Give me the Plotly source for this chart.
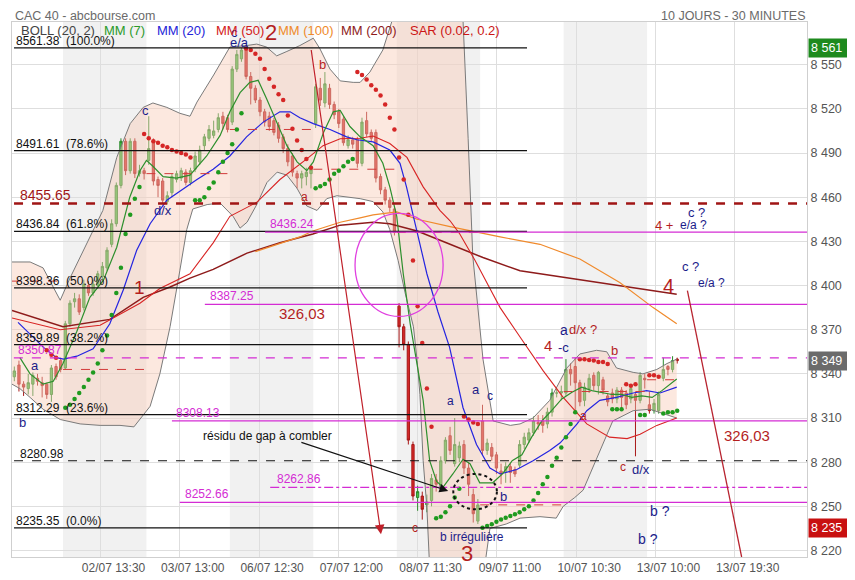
import plotly.graph_objects as go

# ---------------- DATA ----------------
day_labels = ["01/07", "02/07", "03/07", "06/07", "07/07", "08/07", "09/07", "10/07", "13/07"]
bars_per_day = [11, 18, 18, 18, 18, 18, 18, 18, 7]

open_ = [8338, 8346, 8333, 8330, 8333, 8337, 8334, 8333, 8326, 8345, 8349,
         8344, 8374, 8389, 8391, 8385, 8400, 8395, 8400, 8406, 8412, 8428, 8442, 8468, 8498, 8478, 8498, 8476, 8478,
         8485, 8498, 8472, 8471, 8457, 8463, 8472, 8473, 8477, 8470, 8479, 8484, 8495, 8500, 8502, 8506, 8515, 8514,
         8511, 8547, 8554, 8560, 8542, 8534, 8526, 8518, 8515, 8512, 8509, 8501, 8493, 8488, 8476, 8473, 8474, 8476,
         8510, 8534, 8524, 8534, 8523, 8518, 8513, 8495, 8499, 8499, 8483, 8512, 8504, 8504, 8474, 8465, 8458, 8452,
         8386, 8372, 8360, 8292, 8256, 8257, 8251, 8254, 8268, 8263, 8281, 8298, 8279, 8283, 8292, 8276, 8258, 8240,
         8308, 8288, 8290, 8285, 8274, 8273, 8277, 8275, 8278, 8292, 8295, 8300, 8307, 8308, 8306, 8314, 8327, 8327,
         8327, 8343, 8345, 8334, 8322, 8330, 8339, 8332, 8336, 8325, 8327, 8323, 8329, 8327, 8323, 8326, 8322, 8337,
         8319, 8315, 8315, 8337, 8345, 8343, 8350]
high = [8345, 8349, 8335, 8340, 8341, 8340, 8338, 8334, 8346, 8347, 8351,
        8376, 8390, 8395, 8394, 8404, 8403, 8404, 8410, 8416, 8426, 8445, 8470, 8500, 8500, 8500, 8500, 8482, 8480,
        8515, 8500, 8474, 8473, 8464, 8476, 8478, 8480, 8479, 8480, 8491, 8495, 8503, 8509, 8512, 8517, 8518, 8516,
        8549, 8560, 8561.4, 8561, 8545, 8536, 8528, 8520, 8518, 8514, 8511, 8503, 8496, 8490, 8478, 8478, 8480, 8482,
        8537, 8541, 8545, 8537, 8525, 8520, 8515, 8502, 8501, 8501, 8514, 8518, 8506, 8506, 8476, 8467, 8460, 8454,
        8388, 8374, 8362, 8294, 8264, 8260, 8258, 8272, 8272, 8284, 8297, 8304, 8310, 8294, 8295, 8280, 8262, 8255,
        8319, 8296, 8293, 8287, 8279, 8280, 8279, 8277, 8295, 8300, 8303, 8311, 8312, 8312, 8317, 8330, 8330, 8332,
        8350, 8347, 8351, 8336, 8334, 8340, 8341, 8342, 8338, 8327, 8330, 8331, 8331, 8329, 8333, 8328, 8341, 8340,
        8328, 8323, 8328, 8351, 8346, 8352, 8351]
low = [8335, 8328, 8325, 8326, 8325, 8332, 8324, 8323, 8321, 8336, 8341,
       8343, 8372, 8385, 8380, 8383, 8393, 8393, 8398, 8404, 8410, 8426, 8440, 8466, 8475, 8476, 8473, 8474, 8472,
       8482, 8468, 8460, 8455, 8455, 8460, 8470, 8471, 8468, 8468, 8477, 8482, 8492, 8498, 8500, 8504, 8506, 8504,
       8509, 8545, 8552, 8540, 8523, 8524, 8515, 8508, 8505, 8502, 8497, 8490, 8481, 8474, 8466, 8466, 8468, 8466,
       8507, 8522, 8521, 8520, 8513, 8507, 8495, 8493, 8493, 8480, 8481, 8501, 8498, 8470, 8462, 8455, 8450, 8434,
       8358, 8356, 8292, 8254, 8247, 8241, 8246, 8250, 8260, 8260, 8279, 8285, 8277, 8280, 8272, 8257, 8239, 8238,
       8285, 8285, 8281, 8272, 8265, 8266, 8266, 8270, 8276, 8289, 8293, 8298, 8302, 8300, 8303, 8311, 8324, 8322,
       8325, 8332, 8313, 8318, 8318, 8327, 8329, 8326, 8326, 8318, 8320, 8320, 8316, 8316, 8320, 8284, 8320, 8330,
       8313, 8313, 8313, 8335, 8339, 8341, 8347]
close = [8342, 8333, 8331, 8334, 8339, 8335, 8332, 8326, 8344, 8338, 8343,
         8374, 8388, 8391, 8382, 8401, 8395, 8401, 8408, 8413, 8424, 8442, 8468, 8498, 8478, 8498, 8476, 8478, 8476,
         8493, 8471, 8468, 8458, 8461, 8474, 8476, 8478, 8470, 8478, 8488, 8492, 8501, 8506, 8505, 8514, 8510, 8506,
         8547, 8557, 8560, 8542, 8534, 8526, 8518, 8511, 8508, 8504, 8500, 8493, 8484, 8477, 8473, 8476, 8477, 8479,
         8535, 8526, 8537, 8523, 8516, 8510, 8497, 8499, 8496, 8483, 8511, 8503, 8500, 8473, 8465, 8458, 8453, 8436,
         8372, 8360, 8295, 8257, 8260, 8248, 8253, 8269, 8265, 8281, 8295, 8288, 8292, 8291, 8276, 8265, 8245, 8251,
         8288, 8293, 8284, 8276, 8272, 8277, 8273, 8272, 8292, 8297, 8300, 8308, 8306, 8305, 8314, 8327, 8327, 8328,
         8343, 8340, 8334, 8321, 8331, 8337, 8332, 8341, 8329, 8321, 8323, 8329, 8324, 8319, 8330, 8322, 8339, 8336,
         8315, 8320, 8326, 8343, 8343, 8349, 8349]
prev_close_before = 8403

N_ = None
sar = [N_, N_, N_, N_, N_, N_, N_, 8356, 8353, 8351, N_,
       8317, 8319, 8323, 8327, 8331, 8336, 8341, 8347, 8356, 8366, 8380, 8395, 8412, 8435, 8448, 8459, 8467, 8503,
       8500, 8498, 8497, 8495, 8494, 8492, 8491, 8490, 8489, 8487, 8458, 8458, 8460, 8466, 8470, 8477, 8484, 8490,
       8496, 8506, 8517, 8561, 8560, 8557.5, 8554, 8547, 8540.5, 8535, 8530, 8526, 8515.5, 8506.5, 8498.5, 8492, 8486, 8480,
       8466, 8467.5, 8469, 8472, 8476, 8478, 8481, 8484, 8486, 8545, 8543, 8540, 8536, 8533, 8529, 8523, 8514, 8506,
       8487, 8472, 8448, 8417, 8386, 8361, 8330, 8304, 8242, 8243, 8246, 8250, 8256, 8262, 8311, 8309, 8307, 8306,
       8235.5, 8236.6, 8237.8, 8239.6, 8241, 8242.3, 8243.5, 8244.6, 8246, 8248, 8250, 8254, 8259, 8265, 8270, 8277.5, 8283, 8290,
       8297, 8306, 8314, 8350, 8350, 8349.4, 8349, 8348, 8348, 8346.7, 8316, 8316, 8316, 8333, 8332, 8333, 8312, 8312,
       8339, 8339, 8338, 8313, 8314, 8314, 8315]

boll_up_x = [-0.5, 3.4, 6.2, 9.9, 12.0, 15.6, 19.1, 22.1, 25.0, 27.8, 29.9, 32.9, 35.7, 37.9, 39.4, 43.0, 46.5, 50.1,
             52.3, 54.4, 56.6, 58.8, 61.6, 64.5, 65.9, 68.1, 70.3, 73.1, 74.6, 76.7, 79.5, 81.5, 83.2, 87.5, 91.8,
             95.1, 96.8, 97.9, 98.9, 101.1, 103.3, 107.0, 109.1, 111.9, 115.5, 119.2, 122.0, 125.6, 127.8, 129.9,
             133.5, 135.6, 138.6, 140.8, 142.9]
boll_up_y = [8416, 8416, 8412, 8390, 8405, 8428, 8451, 8487, 8510, 8521, 8524, 8521, 8517, 8515, 8524.6, 8543, 8562,
             8563, 8564, 8562, 8556, 8559, 8563, 8568, 8561, 8547, 8539, 8538, 8538, 8545, 8560, 8580, 8600, 8640,
             8650, 8630, 8580, 8500, 8420, 8350, 8308, 8305, 8306, 8310, 8322, 8344, 8353.5, 8356, 8355, 8344, 8341,
             8340, 8343, 8347, 8350]
boll_lo_x = [-0.5, 1.2, 3.4, 6.2, 9.9, 14.2, 18.5, 22.8, 25.8, 29.3, 31.4, 33.6, 35.7, 37.2, 38.5, 41.6, 44.4, 47.2,
             48.7, 50.2, 52.3, 54.5, 56.7, 58.8, 61.0, 63.1, 65.3, 67.4, 69.6, 71.8, 74.6, 77.4, 79.5, 81.0, 82.8,
             84.3, 86.1, 86.9, 87.5, 88.2, 89.0, 89.5, 90.8, 94.0, 98.3, 101.5, 102.6, 106.1, 109.1, 113.4, 116.9,
             118.4, 120.9, 122.7, 126.3, 129.1, 133.5, 137.1, 142.9]
boll_lo_y = [8333, 8330, 8324, 8316, 8309, 8306, 8305, 8305, 8304, 8318, 8340, 8372, 8410, 8438, 8452, 8455, 8456,
             8447, 8439, 8443, 8455, 8470, 8477, 8475, 8466, 8454, 8451, 8459, 8461, 8460, 8459, 8457, 8450, 8438,
             8417, 8395, 8372, 8349, 8326, 8281, 8249, 8215, 8170, 8140, 8160, 8210, 8235, 8238, 8242, 8243, 8242,
             8250, 8256, 8261, 8288, 8308, 8315, 8316, 8310]

mm7_x = [1.2, 3.4, 6.2, 8.4, 10.5, 13.5, 16.3, 19.2, 22.1, 24.9, 27.1, 28.5, 29.9, 32.1, 35.0, 37.9, 41.5, 44.4,
         46.5, 48.7, 50.8, 52.6, 54.4, 56.6, 58.8, 61.0, 63.1, 64.5, 66.7, 68.8, 70.3, 72.4, 74.6, 77.4, 79.5, 81.0,
         82.5, 83.9, 85.4, 88.2, 89.6, 91.1, 92.5, 94.6, 96.8, 98.3, 100.4, 103.2, 105.3, 107.4, 109.5, 111.6,
         113.8, 115.9, 118.1, 120.3, 122.4, 124.6, 126.7, 128.9, 131.0, 133.2, 135.4, 137.6, 139.7, 141.9, 142.9]
mm7_y = [8351, 8340, 8333, 8335, 8347, 8369, 8392, 8403.5, 8426, 8460, 8478, 8485, 8481, 8474, 8473, 8475, 8488,
         8502, 8518, 8531, 8538, 8539.4, 8527, 8511, 8495, 8484, 8478, 8484, 8504, 8518, 8519, 8508, 8501, 8495,
         8483, 8467, 8447, 8408, 8374, 8322, 8281, 8267, 8263, 8272, 8282, 8279, 8266, 8266, 8272, 8281, 8285,
         8297, 8308, 8315, 8323, 8327.5, 8331, 8328.6, 8327.5, 8326, 8326, 8324, 8325, 8324, 8328.6, 8334, 8336.5]
mm20_x = [0.8, 3.4, 6.3, 9.1, 10.6, 13.5, 17.0, 20.6, 23.5, 26.4, 29.3, 32.9, 35.7, 37.9, 39.4, 42.9, 46.5, 50.1,
          53.7, 57.3, 59.5, 61.6, 64.5, 68.1, 71.7, 73.9, 77.4, 81.0, 83.2, 84.6, 86.8, 89.0, 91.4, 93.9, 96.8,
          99.7, 102.6, 104.8, 108.4, 111.9, 115.5, 117.7, 119.2, 121.4, 123.5, 126.3, 129.9, 133.5, 136.4, 139.3,
          142.9]
mm20_y = [8375, 8367, 8358, 8351, 8350, 8352, 8357, 8374, 8397, 8424, 8442, 8458, 8464, 8469, 8472, 8479, 8488,
          8501, 8511, 8518, 8518, 8514, 8510, 8506, 8501, 8499, 8497.6, 8492, 8483, 8467, 8437.5, 8408, 8382, 8358,
          8317, 8292, 8276, 8272, 8275, 8281, 8288, 8293, 8298, 8306, 8315, 8322, 8324, 8327, 8328.6, 8327, 8331]
mm50_x = [-0.5, 9.9, 18.5, 27.1, 31.4, 37.9, 42.9, 46.5, 52.3, 57.3, 63.1, 66.6, 70.3, 74.6, 77.4, 81.0, 84.7, 88.2,
          91.8, 94.0, 96.1, 99.4, 102.6, 104.8, 109.1, 114.1, 118.4, 123.5, 128.4, 132.2, 135.0, 138.6, 142.9]
mm50_y = [8378, 8370, 8373, 8388, 8398, 8408, 8429, 8447, 8456.5, 8472, 8486, 8495, 8499.7, 8500, 8501.6, 8496.5,
          8487, 8467, 8451, 8444, 8435, 8417, 8398, 8385, 8365, 8342, 8324, 8306, 8297, 8296, 8299, 8305, 8310]
mm100_x = [52.0, 61.6, 64.4, 70.3, 74.6, 77.4, 82.5, 86.9, 94.0, 104.8, 113.4, 122.0, 130.6, 137.8, 142.9]
mm100_y = [8423, 8433, 8437, 8443, 8446, 8448, 8450, 8445, 8440, 8433, 8428, 8418, 8402, 8385, 8374]
mm200_x = [-0.5, 10.5, 20.6, 27.8, 33.6, 37.9, 42.9, 50.2, 57.3, 64.4, 70.3, 77.4, 81.0, 86.9, 94.0, 101.1, 109.1,
           117.7, 130.6, 142.9]
mm200_y = [8383, 8372, 8377, 8392, 8399, 8405, 8411, 8422, 8429, 8435, 8441, 8443, 8442, 8437, 8428, 8419, 8410,
           8406, 8400, 8394]

fib_levels = [8561.38, 8491.61, 8436.84, 8398.36, 8359.89, 8312.29, 8235.35]
fib_pct = ["100.0%", "78.6%", "61.8%", "50.0%", "38.2%", "23.6%", "0.0%"]
gap_levels = [8436.24, 8387.25, 8350.87, 8308.13, 8262.86, 8252.66]
resist_level = 8455.65
support_level = 8280.98
last_price = 8349

xtick_labels = ["02/07 13:30", "03/07 13:00", "06/07 12:30", "07/07 12:00", "08/07 11:30",
                "09/07 11:00", "10/07 10:30", "13/07 10:00", "13/07 19:30"]
y_ticks = list(range(8220, 8551, 30))

# ---------------- STYLE / LAYOUT CONSTANTS ----------------
XR = [-0.5, 171.0]
YR = [8215.6, 8579.0]
FONT = "Liberation Sans, Arial, sans-serif"
NAVY = "#1c1c8a"
DRED = "#b41e1e"
MAG = "#d42cd4"
# the page body has an 8px margin: the figure is sized so that the plot area
# lands on page pixels x 12..807, y 22..557
W, H = 847, 572
L, R, T, B = 4, 48, 14, 23
PX0, PX1, PY0, PY1 = 12, 807, 22, 557

def px_x(px):
    return (px - PX0) / (PX1 - PX0)

def px_y(py):
    return (PY1 - py) / (PY1 - PY0)

fig = go.Figure()

# day bands
starts = []
s = 0
for n in bars_per_day:
    starts.append(s)
    s += n
shapes = []
for d, st in enumerate(starts):
    if d % 2 == 1:
        shapes.append(dict(type="rect", xref="x", yref="paper", x0=st - 0.5, x1=st + bars_per_day[d] - 0.5,
                           y0=0, y1=1, fillcolor="#f1f1f1", line=dict(width=0), layer="below"))

# Bollinger fill + borders
fig.add_trace(go.Scatter(x=boll_up_x + boll_lo_x[::-1], y=boll_up_y + boll_lo_y[::-1], fill="toself",
                         fillcolor="rgba(248,205,185,0.45)", line=dict(width=0), mode="lines", hoverinfo="skip"))
fig.add_trace(go.Scatter(x=boll_up_x, y=boll_up_y, mode="lines", line=dict(color="#7a7a7a", width=1), hoverinfo="skip"))
fig.add_trace(go.Scatter(x=boll_lo_x, y=boll_lo_y, mode="lines", line=dict(color="#7a7a7a", width=1), hoverinfo="skip"))

# moving averages
for xs, ys, col, w in [(mm200_x, mm200_y, "#8e1b1b", 1.5), (mm100_x, mm100_y, "#f08a2c", 1.2),
                       (mm50_x, mm50_y, "#d82424", 1.1), (mm20_x, mm20_y, "#2424e0", 1.2),
                       (mm7_x, mm7_y, "#2d8f2d", 1.2)]:
    fig.add_trace(go.Scatter(x=xs, y=ys, mode="lines", line=dict(color=col, width=w), hoverinfo="skip"))

# previous-close dashed segments per day
for d, st in enumerate(starts):
    ref = prev_close_before if d == 0 else close[st - 1]
    fig.add_trace(go.Scatter(x=[st - 0.5, st + bars_per_day[d] - 0.5], y=[ref, ref], mode="lines",
                             line=dict(color="#d23a3a", width=1, dash="dash"), hoverinfo="skip"))

# candles
xi = list(range(len(close)))
fig.add_trace(go.Candlestick(x=xi, open=open_, high=high, low=low, close=close, whiskerwidth=0,
                             increasing=dict(line=dict(color="#2b8a2b", width=1), fillcolor="#45c245"),
                             decreasing=dict(line=dict(color="#a81818", width=1), fillcolor="#d42a2a"),
                             hoverinfo="skip"))

# SAR
sar_r = [v if (v is not None and v > (h + l) / 2) else None for v, h, l in zip(sar, high, low)]
sar_g = [v if (v is not None and v <= (h + l) / 2) else None for v, h, l in zip(sar, high, low)]
fig.add_trace(go.Scatter(x=xi, y=sar_r, mode="markers", marker=dict(color="#d52626", size=4.5), hoverinfo="skip"))
fig.add_trace(go.Scatter(x=xi, y=sar_g, mode="markers", marker=dict(color="#1f9a1f", size=4.5), hoverinfo="skip"))

# horizontal levels
fib_x0, fib_x1 = -0.06, 110.6
for lv in fib_levels:
    shapes.append(dict(type="line", xref="x", yref="y", x0=fib_x0, x1=fib_x1, y0=lv, y1=lv,
                       line=dict(color="#111", width=1.2)))
shapes.append(dict(type="line", xref="x", yref="y", x0=fib_x0, x1=XR[1], y0=support_level, y1=support_level,
                   line=dict(color="#111", width=1.2, dash="dash")))
shapes.append(dict(type="line", xref="x", yref="y", x0=fib_x0, x1=XR[1], y0=resist_level, y1=resist_level,
                   line=dict(color="#a01515", width=2.5, dash="dash")))
gap_start = [54.1, 41.1, -0.1, 34.0, 55.2, 35.7]
gap_dash = ["solid", "solid", "dash", "solid", "dashdot", "solid"]
for lv, x0, ds in zip(gap_levels, gap_start, gap_dash):
    shapes.append(dict(type="line", xref="x", yref="y", x0=x0, x1=XR[1], y0=lv, y1=lv,
                       line=dict(color=MAG, width=1.3, dash=ds)))

# circle and dashed ellipse
shapes.append(dict(type="circle", xref="x", yref="y", x0=73.5, x1=92.5, y0=8379, y1=8449,
                   line=dict(color="#e040e0", width=1.3)))
shapes.append(dict(type="circle", xref="x", yref="y", x0=94.7, x1=104.1, y0=8248, y1=8272,
                   line=dict(color="#111", width=2, dash="dot")))
# red projection line (right)
shapes.append(dict(type="line", xref="x", yref="y", x0=145.2, x1=156.9, y0=8396.6, y1=YR[0],
                   line=dict(color="#b82430", width=1.3)))

ann = []
# fib labels
for lv, p in zip(fib_levels, fib_pct):
    ann.append(dict(x=-0.06, y=lv, xref="x", yref="y", text=f"{lv:.2f}  ({p})", showarrow=False,
                    xanchor="left", yanchor="bottom", yshift=-2, font=dict(size=12, color="#111")))
ann.append(dict(x=0.8, y=resist_level, xref="x", yref="y", text=f"{resist_level:.2f}", showarrow=False,
                xanchor="left", yanchor="bottom", yshift=-1, font=dict(size=14, color="#a01515")))
ann.append(dict(x=0.8, y=support_level, xref="x", yref="y", text=f"{support_level:.2f}", showarrow=False,
                xanchor="left", yanchor="bottom", yshift=-2, font=dict(size=12, color="#111")))
gap_lab_x = [54.8, 41.8, 0.3, 34.5, 56.3, 36.4]
for lv, x0 in zip(gap_levels, gap_lab_x):
    ann.append(dict(x=x0, y=lv, xref="x", yref="y", text=f"{lv:.2f}", showarrow=False,
                    xanchor="left", yanchor="bottom", yshift=-1, font=dict(size=12, color=MAG)))

labels = [
    ("c", 47.6, 8572.0, NAVY, 13), ("e/a", 48.5, 8565.0, NAVY, 13), ("2", 55.4, 8572.0, DRED, 22),
    ("b", 66.4, 8549.8, DRED, 13), ("c", 28.4, 8519.2, NAVY, 13), ("d/x", 32.1, 8451.0, NAVY, 13),
    ("1", 27.1, 8398.9, DRED, 19), ("a", 4.5, 8345.6, NAVY, 13), ("b", 1.8, 8307.0, NAVY, 13),
    ("a", 62.7, 8460.0, DRED, 12), ("326,03", 62.0, 8381.0, DRED, 15), ("326,03", 158.0, 8297.9, DRED, 15),
    ("4", 141.2, 8400.0, DRED, 20), ("c ?", 145.8, 8413.0, NAVY, 13), ("e/a ?", 150.5, 8402.0, NAVY, 12),
    ("c ?", 147.1, 8449.7, NAVY, 13), ("4 +", 140.1, 8441.0, DRED, 13), ("e/a ?", 146.6, 8441.0, NAVY, 12),
    ("a", 118.6, 8369.9, NAVY, 14), ("d/x ?", 122.7, 8369.9, DRED, 13), ("4", 115.2, 8359.0, DRED, 15),
    ("-c", 118.4, 8358.0, NAVY, 13), ("b", 129.4, 8356.0, DRED, 13), ("a", 122.7, 8311.5, DRED, 12),
    ("c", 131.2, 8276.4, DRED, 12), ("d/x", 135.1, 8275.0, NAVY, 13), ("a", 94.2, 8321.3, NAVY, 12),
    ("a", 99.7, 8329.7, NAVY, 13), ("c", 102.6, 8325.0, NAVY, 12), ("b", 105.6, 8256.4, NAVY, 13),
    ("c", 86.4, 8235.5, DRED, 12), ("b irrégulière", 98.7, 8229.5, NAVY, 12), ("3", 97.6, 8218.0, DRED, 22),
    ("b ?", 139.3, 8246.9, NAVY, 14), ("b ?", 136.8, 8228.0, NAVY, 14),
    ("résidu de gap à combler", 54.7, 8297.9, "#111", 12),
]
for t, x, y, c, sz in labels:
    ann.append(dict(x=x, y=y, xref="x", yref="y", text=t, showarrow=False, font=dict(size=sz, color=c)))

# arrows
ann.append(dict(x=79.1, y=8231, ax=64.0, ay=8561, xref="x", yref="y", axref="x", ayref="y", text="",
                showarrow=True, arrowhead=2, arrowsize=1.6, arrowwidth=1.2, arrowcolor="#c0202a"))
ann.append(dict(x=93.6, y=8260.5, ax=61.6, ay=8293.8, xref="x", yref="y", axref="x", ayref="y", text="",
                showarrow=True, arrowhead=2, arrowsize=1.6, arrowwidth=1.1, arrowcolor="#111"))

# right price tags
for v, col in [(fib_levels[0], "#1e8a1e"), (last_price, "#6b6b6b"), (fib_levels[-1], "#c81010")]:
    ann.append(dict(x=1, y=v, xref="paper", yref="y", text=f"{int(round(v)):,}".replace(",", " "),
                    showarrow=False, xanchor="left", xshift=1, width=40, align="left", bgcolor=col,
                    borderpad=2, font=dict(size=12.5, color="white")))

# header (top of the figure)
ann.append(dict(x=px_x(14), y=px_y(8), xref="paper", yref="paper", text="CAC 40 - abcbourse.com",
                showarrow=False, xanchor="left", yanchor="top", borderpad=0, font=dict(size=12.5, color="#6a6a6a")))
ann.append(dict(x=px_x(806), y=px_y(8), xref="paper", yref="paper", text="10 JOURS - 30 MINUTES",
                showarrow=False, xanchor="right", yanchor="top", borderpad=0, font=dict(size=12.5, color="#6a6a6a")))
legend_items = [("BOLL (20, 2)", 20, "#444"), ("MM (7)", 103, "#2a9a2a"), ("MM (20)", 156, "#2424d8"),
                ("MM (50)", 215, "#d42020"), ("MM (100)", 277, "#ef8a2a"), ("MM (200)", 340, "#8e1b1b"),
                ("SAR (0.02, 0.2)", 409, "#cc1515")]
for t, px, c in legend_items:
    ann.append(dict(x=px_x(px), y=px_y(31), xref="paper", yref="paper", text=t, showarrow=False,
                    xanchor="left", yanchor="middle", borderpad=0, font=dict(size=13, color=c)))

xtick_vals = [18.6 + 17.1 * k for k in range(len(xtick_labels))]

fig.update_layout(
    width=W, height=H, margin=dict(l=L, r=R, t=T, b=B), paper_bgcolor="white", plot_bgcolor="white",
    showlegend=False, font=dict(family=FONT), shapes=shapes, annotations=ann,
    xaxis=dict(range=XR, rangeslider=dict(visible=False), tickvals=xtick_vals, ticktext=xtick_labels,
               showgrid=True, gridcolor="#dedede", gridwidth=1, zeroline=False, showline=True, mirror=True,
               linecolor="#cfcfcf", ticks="", ticklabelshift=13, tickfont=dict(size=12, color="#555")),
    yaxis=dict(range=YR, side="right", tickvals=y_ticks,
               ticktext=[f"{v:,}".replace(",", " ") for v in y_ticks],
               showgrid=True, gridcolor="#dedede", zeroline=False, showline=True, mirror=True,
               linecolor="#cfcfcf", ticks="", tickfont=dict(size=12.5, color="#555")),
)

fig.write_html("out.html")
